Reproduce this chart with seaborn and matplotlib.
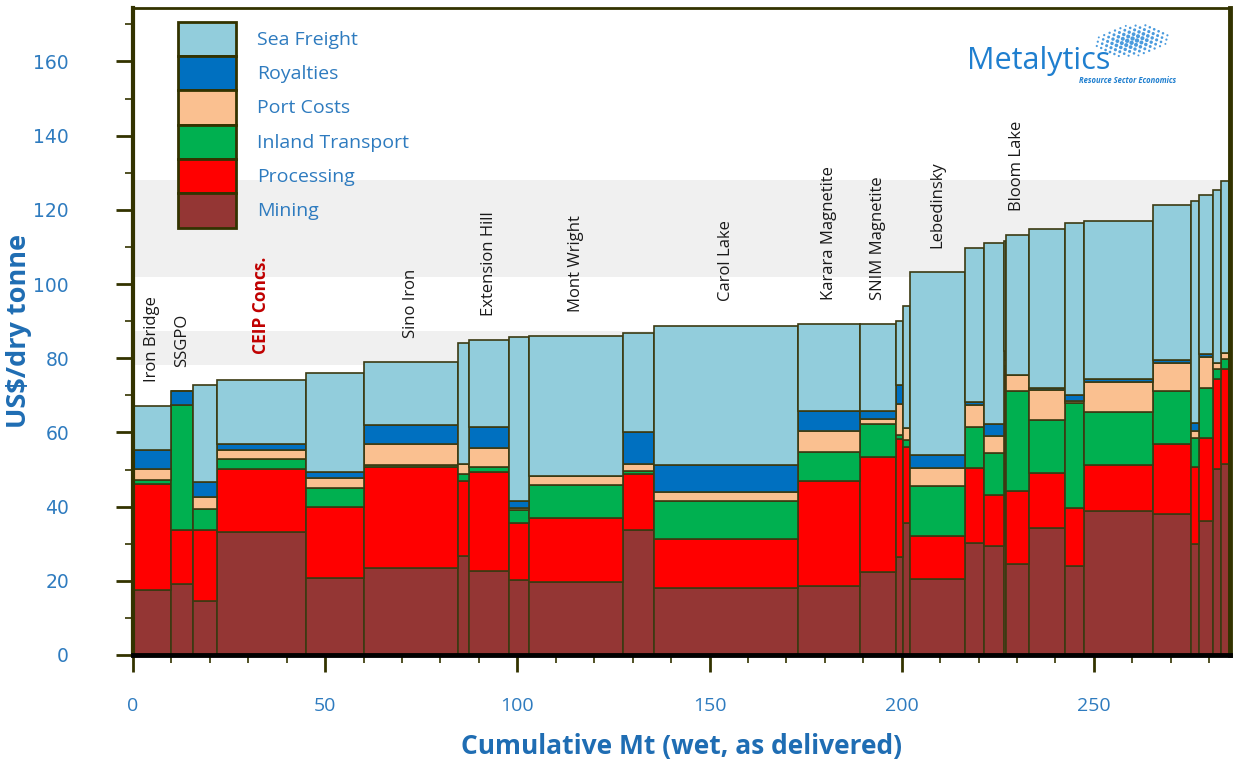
import numpy as np
import matplotlib
matplotlib.use("Agg")
import matplotlib.pyplot as plt
import seaborn as sns
from matplotlib.patches import Patch
from matplotlib.ticker import MultipleLocator

# width of each mine block (Mt, wet) and the cost stack (US$/dry tonne)
widths = [9.8, 5.9, 6.1, 23.2, 15.0, 24.6, 2.7, 10.4, 5.3, 24.4, 8.2, 37.5, 16.0, 9.3, 1.8,
          2.0, 14.2, 5.0, 5.1, 0.5, 6.1, 9.5, 4.7, 18.1, 9.9, 2.1, 3.7, 2.0, 2.0]
mining = [17.5, 19.1, 14.5, 33.2, 20.8, 23.4, 26.7, 22.6, 20.2, 19.7, 33.7, 18.0, 18.7, 22.3, 26.5,
          35.5, 20.4, 30.3, 29.4, 51.6, 24.5, 34.3, 24.1, 38.8, 38.0, 29.9, 36.2, 50.1, 51.6]
processing = [28.6, 14.6, 19.2, 16.9, 19.0, 27.2, 20.2, 26.8, 15.3, 17.3, 15.1, 13.4, 28.2, 31.1, 31.7,
              20.6, 11.7, 20.2, 13.7, 25.4, 19.8, 14.8, 15.4, 12.4, 18.8, 20.7, 22.4, 24.2, 25.4]
inland = [1.0, 33.6, 5.7, 2.6, 5.1, 0.6, 1.9, 1.2, 3.6, 8.8, 0.8, 10.1, 7.9, 8.8, 1.1,
          1.8, 13.5, 11.0, 11.4, 0.8, 26.8, 14.2, 28.3, 14.3, 14.3, 7.9, 13.5, 2.7, 2.7]
port = [3.0, 0.0, 3.2, 2.5, 2.7, 5.6, 2.6, 5.3, 0.4, 2.5, 2.0, 2.5, 5.5, 1.5, 8.3,
        3.2, 4.9, 5.8, 4.5, 1.7, 4.3, 8.1, 0.7, 8.0, 7.7, 1.9, 8.1, 1.6, 1.7]
royalties = [5.2, 3.8, 3.9, 1.8, 1.8, 5.2, 0.0, 5.6, 2.0, 0.0, 8.5, 7.1, 5.5, 2.1, 5.1,
             0.0, 3.4, 0.8, 3.2, 2.5, 0.0, 0.6, 1.7, 0.8, 0.7, 2.2, 0.9, 0.0, 0.0]
sea_freight = [11.7, 0.0, 26.4, 17.1, 26.6, 16.9, 32.7, 23.5, 44.3, 37.7, 26.6, 37.7, 23.3, 23.5, 17.3,
               33.0, 49.3, 41.7, 48.9, 29.5, 37.7, 42.9, 46.2, 42.6, 41.9, 59.8, 42.8, 46.7, 46.5]

component_names = ["Mining", "Processing", "Inland Transport", "Port Costs", "Royalties", "Sea Freight"]
component_colors = ["#943634", "#FF0000", "#00B050", "#FAC090", "#0070C0", "#92CDDC"]

# named mines (index into the bars above)
mine_names = ["Iron Bridge", "SSGPO", "CEIP Concs.", "Sino Iron", "Extension Hill", "Mont Wright",
              "Carol Lake", "Karara Magnetite", "SNIM Magnetite", "Lebedinsky", "Bloom Lake"]
mine_bars = [0, 1, 3, 5, 7, 9, 11, 12, 13, 16, 20]
highlight = "CEIP Concs."

# shaded price ranges
bands = [(78.1, 87.4), (101.9, 128.0)]

BLUE = "#2E7BBF"
DARK_BLUE = "#1F6DB3"
EDGE = "#3b3a12"
OLIVE = "#333300"

sns.set_style("white")
plt.rcParams["font.family"] = ["Open Sans", "DejaVu Sans"]

fig = plt.figure(figsize=(12.35, 7.6), dpi=100)
ax = fig.add_axes([133 / 1235, 105 / 760, 1097 / 1235, 647 / 760])

for lo, hi in bands:
    ax.axhspan(lo, hi, color="#F0F0F0", zorder=0, lw=0)

lefts = np.concatenate([[0], np.cumsum(widths)[:-1]])
bottom = np.zeros(len(widths))
stack = [mining, processing, inland, port, royalties, sea_freight]
for vals, name, col in zip(stack, component_names, component_colors):
    vals = np.array(vals)
    ax.bar(lefts, vals, width=widths, bottom=bottom, align="edge", color=col,
           edgecolor=EDGE, linewidth=1.2, zorder=2)
    bottom += vals
totals = bottom

for name, i in zip(mine_names, mine_bars):
    xc = lefts[i] + widths[i] / 2
    if name == highlight:
        ax.text(xc, totals[i] + 7, name, rotation=90, ha="center", va="bottom",
                fontsize=12.5, fontweight="bold", color="#C00000", zorder=3)
    else:
        ax.text(xc, totals[i] + 6.5, name, rotation=90, ha="center", va="bottom",
                fontsize=12, color="#1a1a1a", zorder=3)

ax.set_xlim(0, 285.4)
ax.set_ylim(0, 174.4)
ax.xaxis.set_major_locator(MultipleLocator(50))
ax.xaxis.set_minor_locator(MultipleLocator(10))
ax.yaxis.set_major_locator(MultipleLocator(20))
ax.yaxis.set_minor_locator(MultipleLocator(10))
ax.tick_params(axis="both", which="major", direction="out", length=12, width=2,
               color=OLIVE, labelcolor=BLUE)
ax.tick_params(axis="both", which="minor", direction="out", length=6, width=1.2, color=OLIVE)
ax.tick_params(axis="y", which="major", labelsize=13.5, pad=34, left=True)
ax.tick_params(axis="y", which="minor", left=True)
ax.tick_params(axis="x", which="major", labelsize=14, pad=18, bottom=True)
ax.tick_params(axis="x", which="minor", bottom=True)
for lab in ax.get_yticklabels():
    lab.set_fontfamily("DejaVu Sans")
for lab in ax.get_xticklabels():
    lab.set_fontfamily(["Liberation Sans Narrow", "Open Sans"])

for side, lw, col in [("left", 3, OLIVE), ("right", 3.5, OLIVE), ("top", 2, OLIVE), ("bottom", 3.5, "black")]:
    ax.spines[side].set_visible(True)
    ax.spines[side].set_linewidth(lw)
    ax.spines[side].set_color(col)
    ax.spines[side].set_zorder(5)

ax.set_ylabel("US$/dry tonne", fontsize=19.5, fontweight="bold", color=DARK_BLUE)
ax.yaxis.set_label_coords(-0.092, 0.5)
ax.set_xlabel("Cumulative Mt (wet, as delivered)", fontsize=19, fontweight="bold",
              color=DARK_BLUE, labelpad=13, fontfamily=["Liberation Sans Narrow", "Open Sans"])

handles = [Patch(facecolor=c, edgecolor=OLIVE, linewidth=2, label=n)
           for n, c in zip(component_names, component_colors)][::-1]
leg = ax.legend(handles=handles, loc="upper left", bbox_to_anchor=(0.041, 0.979),
                frameon=False, fontsize=14, labelspacing=0, handlelength=3.0,
                handleheight=2.34, handletextpad=1.05, borderpad=0, borderaxespad=0,
                labelcolor=BLUE)
leg.set_zorder(6)

# Metalytics logo
fig.text(1110 / 1235, 1 - 69 / 760, "Metalytics", ha="right", va="baseline",
         fontsize=22, color="#1f7fcf", fontfamily="Open Sans")
fig.text(1176 / 1235, 1 - 83 / 760, "Resource Sector Economics", ha="right", va="baseline",
         fontsize=5.5, color="#1f7fcf", style="italic", fontweight="bold")
logo = fig.add_axes([0, 0, 1, 1], facecolor="none")
logo.set_xlim(0, 1235)
logo.set_ylim(760, 0)
logo.axis("off")
gi, gj = np.meshgrid(np.arange(10), np.arange(10))
gx = 1088 + gi * 5.4 + gj * 4.4
gy = 42 - gi * 2.3 + gj * 2.0
dist = np.hypot((gi - 4.5) * 0.9, gj - 4.5)
keep = dist < 5.2
logo.scatter(gx[keep], gy[keep], s=(11 - dist[keep] * 1.8).clip(1.5), color="#2b8ad8",
             alpha=0.85, lw=0)

fig.savefig("out.png", dpi=100)
